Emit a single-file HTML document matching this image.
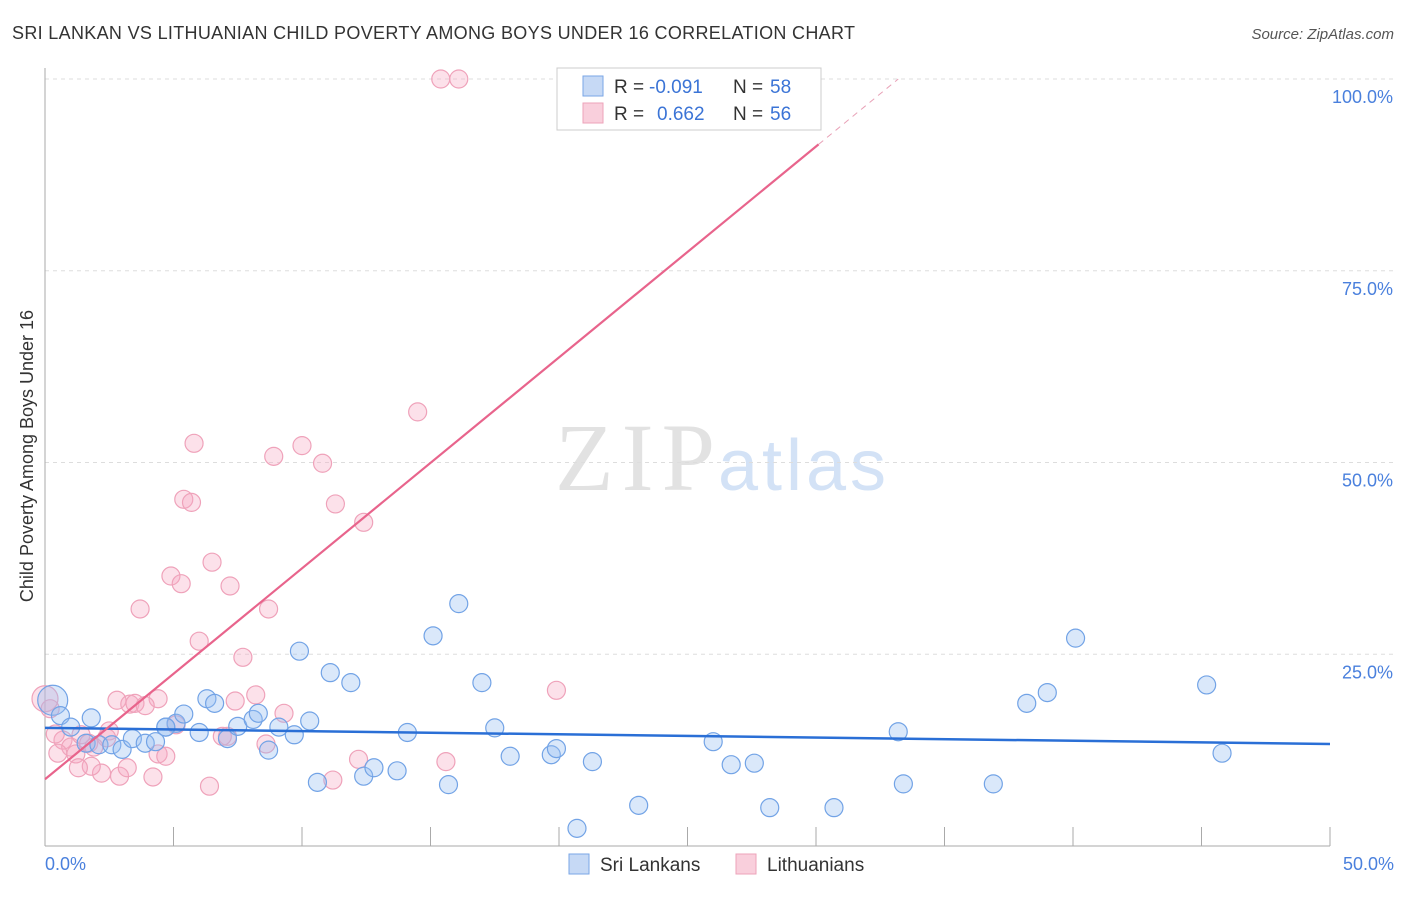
<!DOCTYPE html>
<html><head><meta charset="utf-8"><style>
body{margin:0;background:#fff;font-family:"Liberation Sans",sans-serif;}
</style></head><body>
<svg width="1406" height="892" viewBox="0 0 1406 892" xmlns="http://www.w3.org/2000/svg" font-family="Liberation Sans, sans-serif">
<text x="12" y="39" font-size="18" fill="#333" textLength="843">SRI LANKAN VS LITHUANIAN CHILD POVERTY AMONG BOYS UNDER 16 CORRELATION CHART</text>
<text x="1394" y="39" font-size="15" fill="#555" text-anchor="end" font-style="italic">Source: ZipAtlas.com</text>
<text x="555" y="490" font-size="96" fill="#e2e2e2" textLength="160" font-family="Liberation Serif, serif">ZIP</text>
<text x="718" y="490" font-size="72" fill="#d3e2f6" textLength="168">atlas</text>
<g id="grid"></g>
<line x1="45" y1="68" x2="45" y2="846" stroke="#aaa"/>
<line x1="45" y1="846" x2="1330" y2="846" stroke="#aaa"/>
<g id="ticks"></g>
<text x="33" y="456" font-size="18" fill="#333" text-anchor="middle" transform="rotate(-90 33 456)">Child Poverty Among Boys Under 16</text>
<text x="45" y="870" font-size="18" fill="#4a80dd">0.0%</text>
<text x="1394" y="870" font-size="18" fill="#4a80dd" text-anchor="end">50.0%</text>
<g id="pts"></g>
<g id="lines"></g>
<g>
<rect x="557" y="68" width="264" height="62" fill="#fff" stroke="#ccc"/>
<rect x="583" y="76" width="20" height="20" fill="#c6d9f5" stroke="#7aa6e6"/>
<rect x="583" y="103" width="20" height="20" fill="#f9cfdc" stroke="#eda3ba"/>
<text x="614" y="93" font-size="19" fill="#333">R =</text>
<text x="649" y="93" font-size="19" fill="#3b74d6">-0.091</text>
<text x="733" y="93" font-size="19" fill="#333">N =</text>
<text x="770" y="93" font-size="19" fill="#3b74d6">58</text>
<text x="614" y="120" font-size="19" fill="#333">R =</text>
<text x="657" y="120" font-size="19" fill="#3b74d6">0.662</text>
<text x="733" y="120" font-size="19" fill="#333">N =</text>
<text x="770" y="120" font-size="19" fill="#3b74d6">56</text>
</g>
<g>
<rect x="569" y="854" width="20" height="20" fill="#c6d9f5" stroke="#7aa6e6"/>
<text x="600" y="871" font-size="19" fill="#333">Sri Lankans</text>
<rect x="736" y="854" width="20" height="20" fill="#f9cfdc" stroke="#eda3ba"/>
<text x="767" y="871" font-size="19" fill="#333">Lithuanians</text>
</g>
</svg>
<script>
const yTicks=[25,50,75,100];
const xTicks=[0,5,10,15,20,25,30,35,40,45,50];
const blueX=[0.3,0.6,1.0,1.8,1.6,2.1,2.6,3.0,3.4,3.9,4.3,4.7,5.1,5.4,6.0,6.3,6.6,7.1,7.5,8.1,8.3,8.7,9.1,9.7,9.9,10.3,10.6,11.1,11.9,12.4,12.8,13.7,14.1,15.1,15.7,16.1,17.0,17.5,18.1,19.7,19.9,20.7,21.3,23.1,26.0,26.7,27.6,28.2,30.7,33.2,33.4,36.9,38.2,39.0,40.1,45.2,45.8,4.7];
const blueY=[19.0,17.0,15.5,16.7,13.4,13.2,13.2,12.6,14.0,13.4,13.6,15.5,16.0,17.2,14.8,19.2,18.6,14.0,15.6,16.5,17.3,12.5,15.5,14.5,25.4,16.3,8.3,22.6,21.3,9.1,10.2,9.8,14.8,27.4,8.0,31.6,21.3,15.4,11.7,11.9,12.7,2.3,11.0,5.3,13.6,10.6,10.8,5.0,5.0,14.9,8.1,8.1,18.6,20.0,27.1,21.0,12.1,15.5];
const pinkX=[15.4,16.1,14.5,5.8,10.0,8.9,10.8,5.4,5.7,11.3,12.4,6.5,4.9,5.3,7.2,3.7,8.7,6.0,7.7,19.9,8.2,2.8,4.4,7.4,3.3,3.5,3.9,9.3,2.5,5.1,7.1,6.9,8.6,2.4,0.7,1.0,1.4,1.7,1.9,0.5,1.2,2.2,1.8,1.3,2.9,3.2,4.4,4.7,4.2,6.4,11.2,12.2,15.6,0.4,0.2,0.0];
const pinkY=[100,100,56.6,52.5,52.2,50.8,49.9,45.2,44.8,44.6,42.2,37.0,35.2,34.2,33.9,30.9,30.9,26.7,24.6,20.3,19.7,19.0,19.2,18.9,18.5,18.6,18.3,17.3,15.0,15.8,14.3,14.3,13.3,14.1,13.8,12.9,14.5,13.4,12.9,12.1,12.0,9.5,10.4,10.2,9.1,10.2,12.0,11.7,9.0,7.8,8.6,11.3,11.0,14.6,17.9,19.2];
const blueR=[15.4,13.3], pinkR=[8.7,2.75];
const X=v=>45+v/50*1285, Y=v=>846-v/100*767;
const NS="http://www.w3.org/2000/svg";
function mk(t,a,p){const e=document.createElementNS(NS,t);for(const k in a)e.setAttribute(k,a[k]);p.appendChild(e);return e;}
const grid=document.getElementById('grid'),ticks=document.getElementById('ticks');
yTicks.forEach(v=>{
 const l=mk('line',{x1:45,x2:1394,y1:Y(v),y2:Y(v),stroke:'#ddd','stroke-dasharray':'4,4'},grid);
 
 
 const t=mk('text',{x:1393,y:Y(v)+24,'font-size':18,fill:'#4a80dd','text-anchor':'end'},ticks);
 t.textContent=v.toFixed(1)+'%';
 
 
});
xTicks.forEach(v=>{
 const l=mk('line',{x1:X(v),x2:X(v),y1:827,y2:846,stroke:'#aaa'},ticks);
 
 
});
const pts=document.getElementById('pts');
pinkX.forEach((x,i)=>{
 const c=mk('circle',{cx:X(x),cy:Y(pinkY[i]),r:i==pinkX.length-1?13:9,fill:'rgba(246,170,195,0.35)',stroke:'#efa2ba','stroke-width':1.2},pts);
 
 
});
blueX.forEach((x,i)=>{
 const c=mk('circle',{cx:X(x),cy:Y(blueY[i]),r:i==0?15:9,fill:'rgba(150,190,240,0.35)',stroke:'#72a3e6','stroke-width':1.2},pts);
 
 
});
const lines=document.getElementById('lines');
const bl=mk('line',{x1:X(0),y1:Y(blueR[0]),x2:X(50),y2:Y(blueR[1]),stroke:'#2a6fd6','stroke-width':2.5},lines);


const xe=30.1, xd=(100-pinkR[0])/pinkR[1];
const pl=mk('line',{x1:X(0),y1:Y(pinkR[0]),x2:X(xe),y2:Y(pinkR[0]+pinkR[1]*xe),stroke:'#e8648c','stroke-width':2.2},lines);


const pd=mk('line',{x1:X(xe),y1:Y(pinkR[0]+pinkR[1]*xe),x2:X(xd),y2:Y(100),stroke:'#e8a0b6','stroke-width':1,'stroke-dasharray':'6,5'},lines);


</script>
</body></html>
